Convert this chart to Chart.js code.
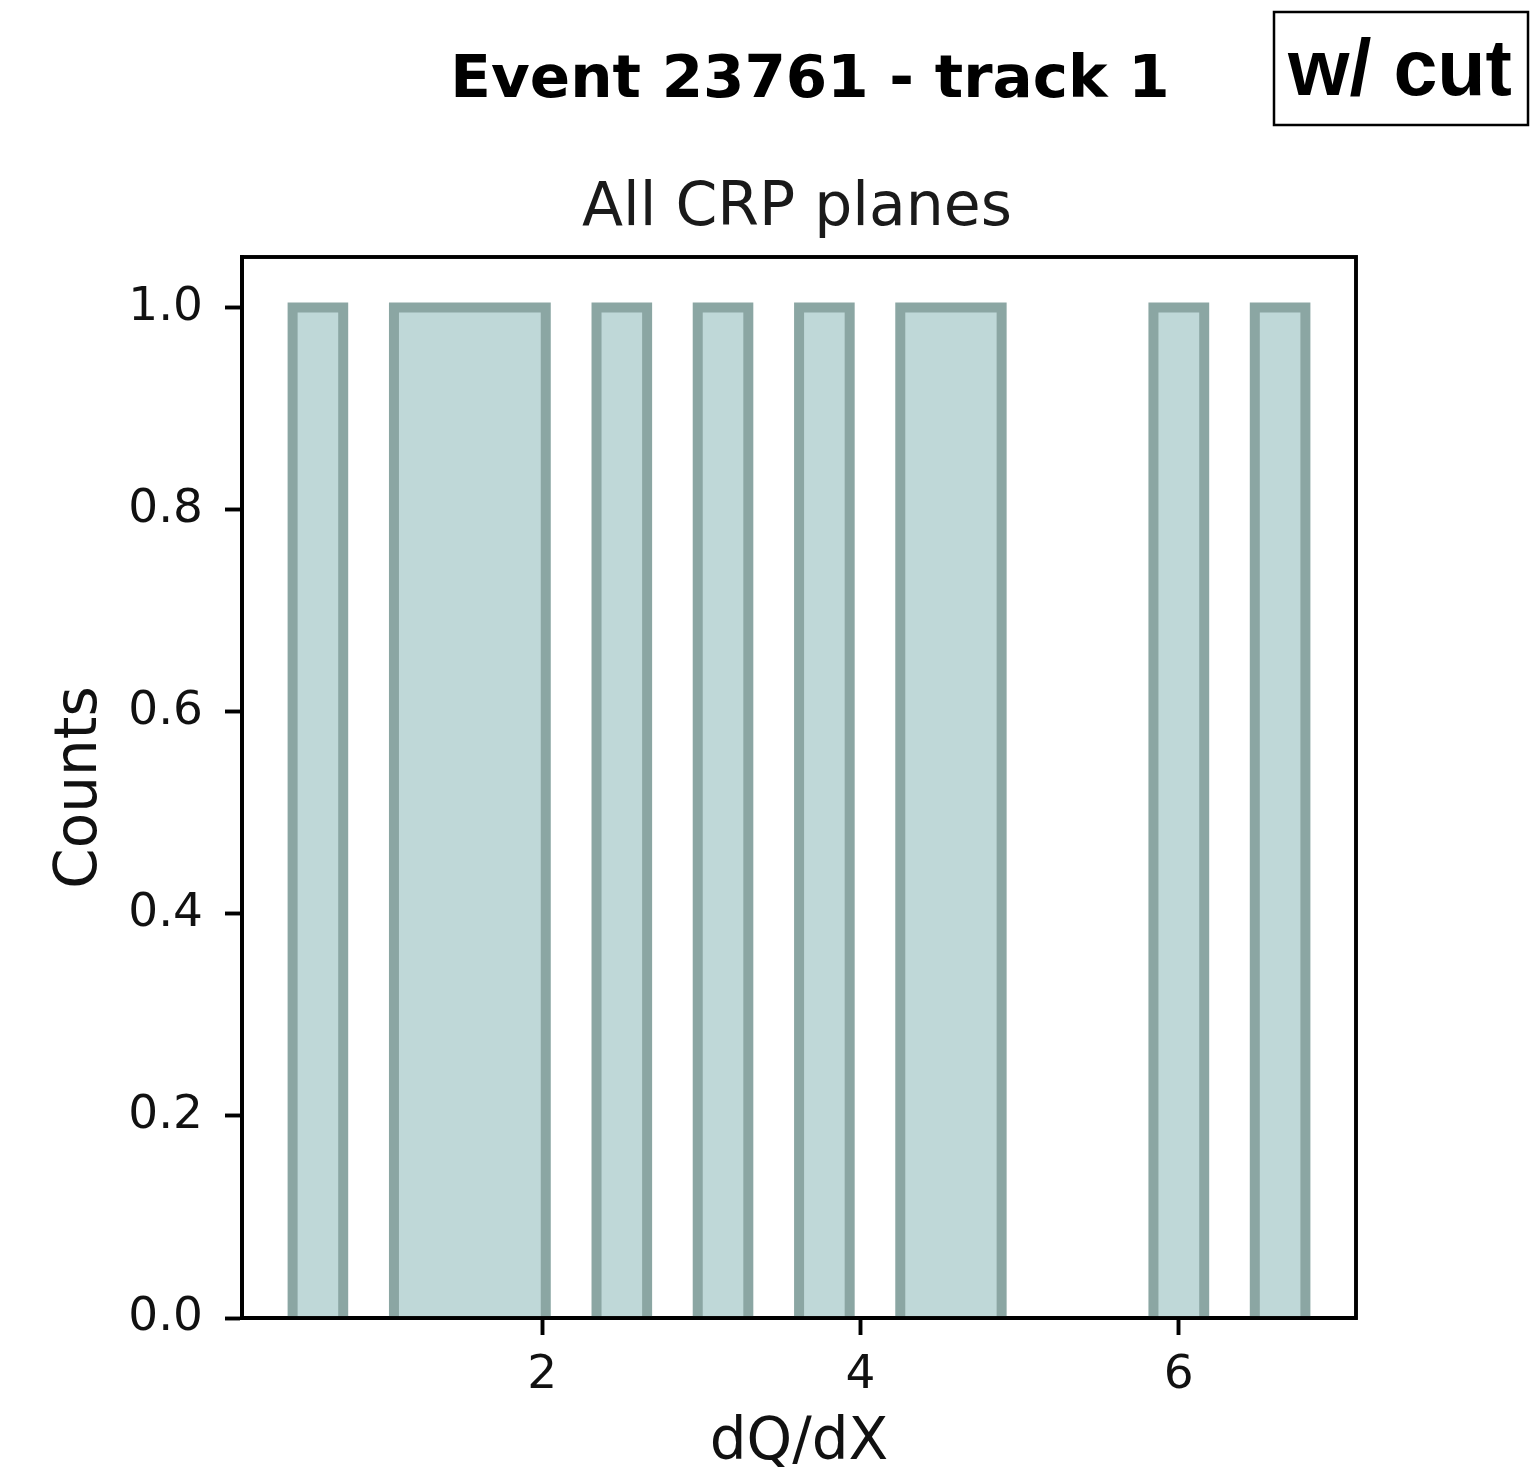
<!DOCTYPE html>
<html>
<head>
<meta charset="utf-8">
<title>Event 23761 - track 1</title>
<script src="https://cdn.jsdelivr.net/npm/chart.js@4/dist/chart.umd.min.js"></script>
<style>
  html, body { margin: 0; padding: 0; background: #ffffff; }
  canvas { display: block; }
</style>
</head>
<body>
<canvas id="hist" width="1533" height="1473"></canvas>
<script>
// Histogram bin edges of dQ/dX (20 bins) and the count in each bin
const binEdges = [0.431, 0.749, 1.068, 1.386, 1.704, 2.022, 2.341, 2.659, 2.977, 3.295,
                  3.614, 3.932, 4.250, 4.568, 4.887, 5.205, 5.523, 5.841, 6.160, 6.478, 6.796];
const binCounts = [1, 0, 1, 1, 1, 0, 1, 0, 1, 0, 1, 0, 1, 1, 0, 0, 0, 1, 0, 1];

// Axis ticks and limits
const xTicks = [2, 4, 6];
const yTicks = [0.0, 0.2, 0.4, 0.6, 0.8, 1.0];
const xLimits = [0.113, 7.114];
const yLimits = [0, 1.05];

const titleText = 'Event 23761 - track 1';
const subtitleText = 'All CRP planes';
const tagText = 'w/ cut';

// Step outline of the histogram (stepfilled style)
const stepPoints = [{ x: binEdges[0], y: 0 }];
binCounts.forEach((c, i) => {
  stepPoints.push({ x: binEdges[i], y: c });
  stepPoints.push({ x: binEdges[i + 1], y: c });
});
stepPoints.push({ x: binEdges[binEdges.length - 1], y: 0 });

const FRAME_W = 3.9;

const decorations = {
  id: 'decorations',
  afterDatasetsDraw(chart) {
    const { ctx, chartArea: a } = chart;
    ctx.save();
    // axes frame on top of the bars
    ctx.strokeStyle = '#000';
    ctx.lineWidth = FRAME_W;
    ctx.lineJoin = 'miter';
    ctx.strokeRect(a.left, a.top, a.right - a.left, a.bottom - a.top);
    ctx.restore();
  },
  afterDraw(chart) {
    const { ctx, chartArea: a } = chart;
    ctx.save();
    ctx.fillStyle = '#000';
    ctx.textAlign = 'center';
    ctx.textBaseline = 'alphabetic';
    ctx.font = 'bold 59.5px "DejaVu Sans"';
    ctx.fillText(titleText, 810, 97);
    ctx.font = '60px "DejaVu Sans"';
    ctx.fillStyle = '#1a1a1a';
    ctx.fillText(subtitleText, 797, 225);
    // boxed tag in the top right corner
    ctx.strokeStyle = '#000';
    ctx.lineWidth = 2.5;
    ctx.strokeRect(1274, 12, 254, 113);
    ctx.fillStyle = '#000';
    ctx.font = 'bold 79px "Liberation Sans"';
    ctx.fillText(tagText, 1400, 95);
    ctx.restore();
  }
};

const fillColor = '#bfd8d8';
const edgeColor = '#8ba6a3';

new Chart(document.getElementById('hist'), {
  type: 'line',
  data: {
    datasets: [{
      data: stepPoints,
      parsing: false,
      fill: 'origin',
      backgroundColor: fillColor,
      borderColor: edgeColor,
      borderWidth: 10,
      borderJoinStyle: 'miter',
      borderCapStyle: 'butt',
      pointRadius: 0,
      tension: 0,
      segment: {
        borderColor: ctx => (ctx.p0.parsed.y === 0 && ctx.p1.parsed.y === 0) ? 'rgba(0,0,0,0)' : edgeColor
      }
    }]
  },
  plugins: [decorations],
  options: {
    responsive: false,
    devicePixelRatio: 1,
    animation: false,
    events: [],
    layout: { padding: { left: 0, top: 257, right: 177, bottom: 0 } },
    plugins: {
      legend: { display: false },
      tooltip: { enabled: false },
      title: { display: false }
    },
    scales: {
      x: {
        type: 'linear',
        min: xLimits[0],
        max: xLimits[1],
        afterBuildTicks: s => { s.ticks = xTicks.map(v => ({ value: v })); },
        afterFit: s => { s.height = 155; },
        ticks: {
          callback: v => String(v),
          color: '#111',
          font: { family: 'DejaVu Sans', size: 47, lineHeight: 1.2 },
          padding: 13,
          maxRotation: 0,
          autoSkip: false
        },
        grid: {
          drawOnChartArea: false,
          drawTicks: true,
          tickLength: 17,
          tickWidth: FRAME_W,
          tickColor: '#000'
        },
        border: { display: true, color: '#000', width: FRAME_W },
        title: {
          display: true,
          text: 'dQ/dX',
          color: '#111',
          font: { family: 'DejaVu Sans', size: 58, lineHeight: 1 },
          padding: { top: 0, bottom: 0 }
        }
      },
      y: {
        type: 'linear',
        min: yLimits[0],
        max: yLimits[1],
        afterBuildTicks: s => { s.ticks = yTicks.map(v => ({ value: v })); },
        afterFit: s => { s.width = 242; },
        ticks: {
          callback: v => Number(v).toFixed(1),
          color: '#111',
          font: { family: 'DejaVu Sans', size: 47, lineHeight: 1.2 },
          padding: 22,
          autoSkip: false
        },
        grid: {
          drawOnChartArea: false,
          drawTicks: true,
          tickLength: 17,
          tickWidth: FRAME_W,
          tickColor: '#000'
        },
        border: { display: true, color: '#000', width: FRAME_W },
        title: {
          display: true,
          text: 'Counts',
          color: '#111',
          font: { family: 'DejaVu Sans', size: 58, lineHeight: 1 },
          padding: { top: 52, bottom: 0 }
        }
      }
    }
  }
});
</script>
</body>
</html>
